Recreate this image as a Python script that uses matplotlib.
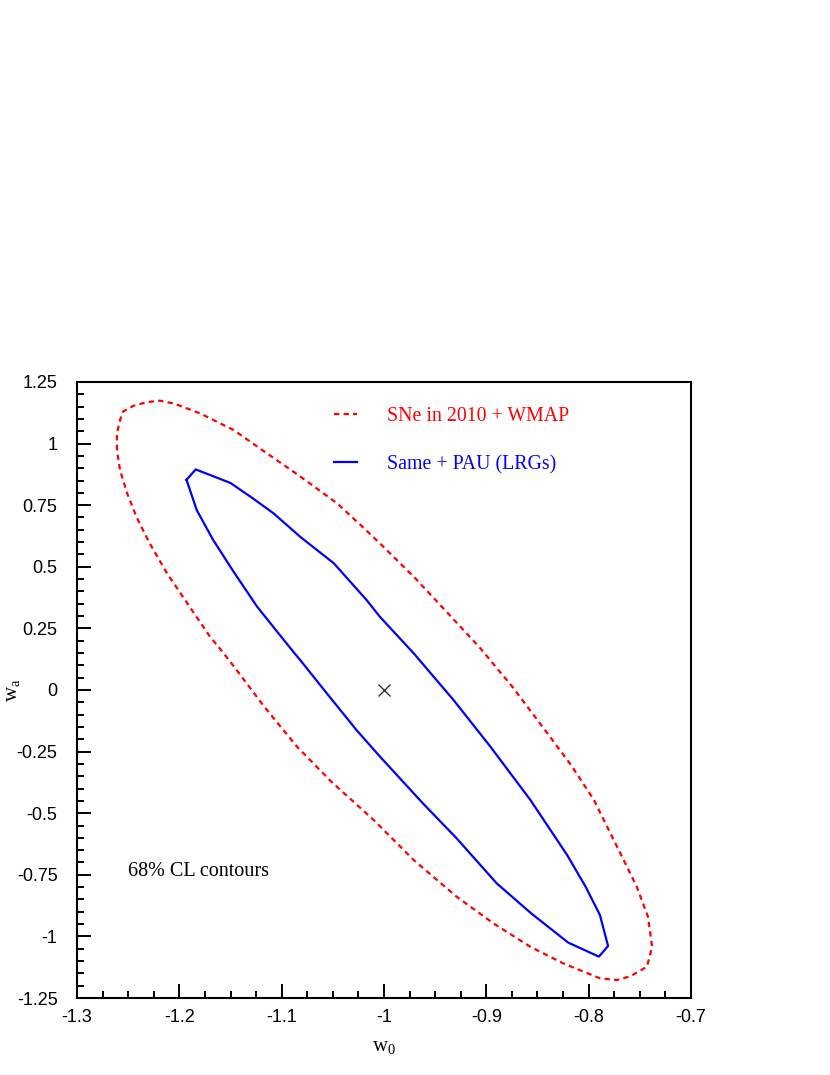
import matplotlib
matplotlib.use('Agg')
import matplotlib.pyplot as plt
from matplotlib.ticker import MultipleLocator

serif = 'Liberation Serif'
sans = 'Liberation Sans'
# mathtext must be set before the labels are created
plt.rcParams['mathtext.fontset'] = 'custom'
plt.rcParams['mathtext.rm'] = serif
plt.rcParams['mathtext.it'] = serif

# outer contour: SNe in 2010 + WMAP (w0, wa)
sne_w0 = [-1.261, -1.261, -1.258, -1.255, -1.245, -1.232, -1.219, -1.205, -1.180, -1.147,
          -1.115, -1.083, -1.046, -1.023, -1.004, -0.971, -0.939, -0.906, -0.874, -0.841,
          -0.818, -0.795, -0.769, -0.753, -0.742, -0.738, -0.743, -0.759, -0.772, -0.789,
          -0.825, -0.857, -0.893, -0.929, -0.971, -1.010, -1.052, -1.085, -1.117, -1.144,
          -1.160, -1.170, -1.190, -1.212, -1.229, -1.242, -1.251, -1.258, -1.261]
sne_wa = [0.974, 1.042, 1.095, 1.130, 1.153, 1.168, 1.174, 1.162, 1.123, 1.055,
          0.962, 0.870, 0.758, 0.670, 0.595, 0.460, 0.318, 0.170, 0.010, -0.172,
          -0.300, -0.445, -0.663, -0.798, -0.920, -1.042, -1.123, -1.161, -1.177, -1.170,
          -1.109, -1.042, -0.947, -0.839, -0.690, -0.528, -0.370, -0.230, -0.068, 0.081,
          0.166, 0.216, 0.338, 0.473, 0.595, 0.703, 0.798, 0.893, 0.974]

# inner contour: Same + PAU (LRGs)
pau_w0 = [-1.193, -1.184, -1.150, -1.129, -1.108, -1.082, -1.049, -1.017, -1.004, -0.971,
          -0.932, -0.896, -0.857, -0.821, -0.803, -0.789, -0.781, -0.790, -0.820, -0.856,
          -0.890, -0.929, -0.962, -1.004, -1.027, -1.056, -1.082, -1.090, -1.124, -1.147,
          -1.167, -1.183, -1.193]
pau_wa = [0.853, 0.895, 0.840, 0.780, 0.717, 0.622, 0.514, 0.365, 0.297, 0.149,
          -0.041, -0.230, -0.446, -0.670, -0.798, -0.913, -1.039, -1.082, -1.025, -0.907,
          -0.784, -0.602, -0.460, -0.270, -0.162, -0.013, 0.122, 0.162, 0.338, 0.480,
          0.609, 0.730, 0.853]

fid_w0, fid_wa = -1.0, 0.0

fig = plt.figure(figsize=(8.3, 10.75), dpi=100)
ax = fig.add_axes([0.0928, 0.0716, 0.7397, 0.5731])

ax.plot(sne_w0, sne_wa, color='#ff0000', lw=1.6, linestyle=(0, (2.4, 1.9)),
        label='SNe in 2010 + WMAP')
ax.plot(pau_w0, pau_wa, color='#0000ff', lw=1.6, label='Same + PAU (LRGs)')
ax.plot(fid_w0, fid_wa, marker='x', color='#222222', ms=8, mew=0.9, ls='none')

ax.set_xlim(-1.3, -0.7)
ax.set_ylim(-1.25, 1.25)

######
# ticks: inward, only on bottom and left
######
ax.xaxis.set_major_locator(MultipleLocator(0.1))
ax.xaxis.set_minor_locator(MultipleLocator(0.025))
ax.yaxis.set_major_locator(MultipleLocator(0.25))
ax.yaxis.set_minor_locator(MultipleLocator(0.05))
ax.tick_params(which='both', direction='in', top=False, right=False, width=1.4)
ax.tick_params(which='major', length=10)
ax.tick_params(which='minor', length=5)
ax.tick_params(axis='x', which='major', pad=8)
ax.tick_params(axis='y', which='major', pad=14)

ax.xaxis.set_major_formatter(plt.FuncFormatter(lambda v, p: '%g' % round(v, 2)))
ax.yaxis.set_major_formatter(plt.FuncFormatter(lambda v, p: '%g' % round(v, 2)))
for lab in ax.get_xticklabels() + ax.get_yticklabels():
    lab.set_fontfamily(sans)
    lab.set_fontsize(13)

for s in ax.spines.values():
    s.set_linewidth(1.5)

ax.set_xlabel(r'w$_\mathrm{0}$', fontfamily=serif, fontsize=15, labelpad=8)
ax.set_ylabel(r'w$_\mathrm{a}$', fontfamily=serif, fontsize=15)
ax.yaxis.set_label_coords(-0.09, 0.5)

leg = ax.legend(loc='upper left', bbox_to_anchor=(0.389, 0.988), frameon=False,
                prop={'family': serif, 'size': 14.3}, handlelength=1.15,
                handletextpad=1.55, labelspacing=1.45)
for txt, line in zip(leg.get_texts(), leg.get_lines()):
    txt.set_color(line.get_color())

ax.text(0.083, 0.206, '68% CL contours', transform=ax.transAxes,
        fontfamily=serif, fontsize=14.5, va='center')

fig.savefig('out.png', dpi=100)
